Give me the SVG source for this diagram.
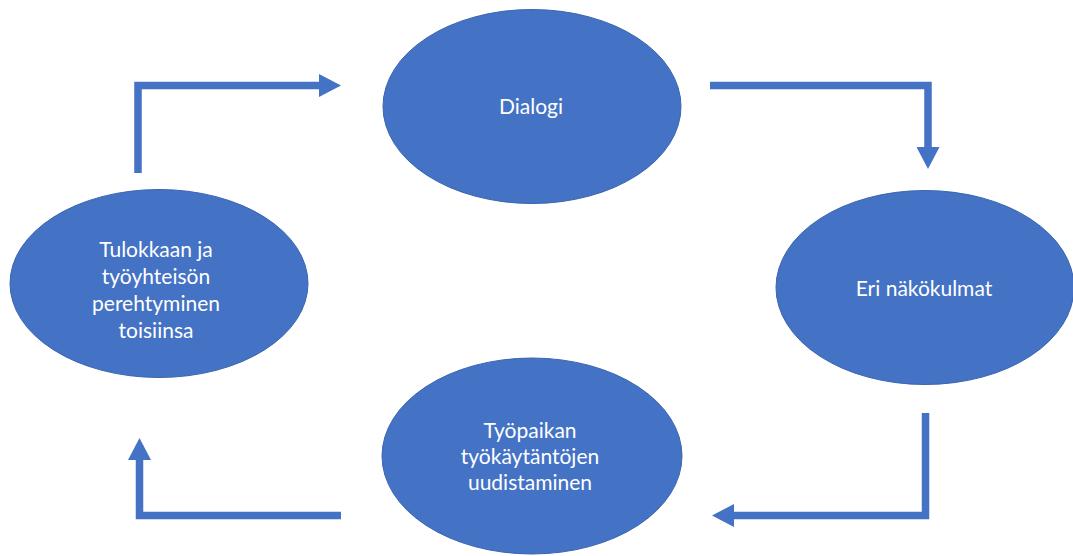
<svg xmlns="http://www.w3.org/2000/svg" width="1073" height="556" viewBox="0 0 1073 556">
  <style>
    .node { fill: #4472C4; stroke: #3A65B0; stroke-width: 1; }
    .label { fill: #FFFFFF; font-family: Lato, "Open Sans", "Liberation Sans", sans-serif; font-size: 21px; text-anchor: middle; }
    .link { fill: none; stroke: #4472C4; stroke-width: 7.5; stroke-linejoin: miter; stroke-linecap: butt; }
  </style>
  <defs>
    <marker id="head" markerUnits="userSpaceOnUse" markerWidth="22" markerHeight="23" refX="1" refY="11.5" orient="auto">
      <path d="M0,0 L22,11.5 L0,23 Z" fill="#4472C4"/>
    </marker>
  </defs>
  <rect width="1073" height="556" fill="#FFFFFF"/>

  <g id="connectors">
    <path class="link" d="M138,173 V85.5 H320" marker-end="url(#head)"/>
    <path class="link" d="M710,85.5 H928 V148" marker-end="url(#head)"/>
    <path class="link" d="M925.5,413 V515.5 H733" marker-end="url(#head)"/>
    <path class="link" d="M341,515.5 H139.5 V459" marker-end="url(#head)"/>
  </g>

  <g id="node-dialogi">
    <ellipse class="node" cx="532" cy="106.5" rx="149" ry="97"/>
    <text class="label" x="531" y="114">Dialogi</text>
  </g>

  <g id="node-nakokulmat">
    <ellipse class="node" cx="925" cy="287.5" rx="149" ry="97"/>
    <text class="label" x="924" y="296">Eri näkökulmat</text>
  </g>

  <g id="node-uudistaminen">
    <ellipse class="node" cx="532" cy="456" rx="150" ry="98"/>
    <text class="label" x="530" y="438">Työpaikan</text>
    <text class="label" x="530" y="464">työkäytäntöjen</text>
    <text class="label" x="530" y="490">uudistaminen</text>
  </g>

  <g id="node-perehtyminen">
    <ellipse class="node" cx="159" cy="283.5" rx="149" ry="94"/>
    <text class="label" x="156" y="257">Tulokkaan ja</text>
    <text class="label" x="156" y="284">työyhteisön</text>
    <text class="label" x="156" y="311">perehtyminen</text>
    <text class="label" x="156" y="338">toisiinsa</text>
  </g>
</svg>
